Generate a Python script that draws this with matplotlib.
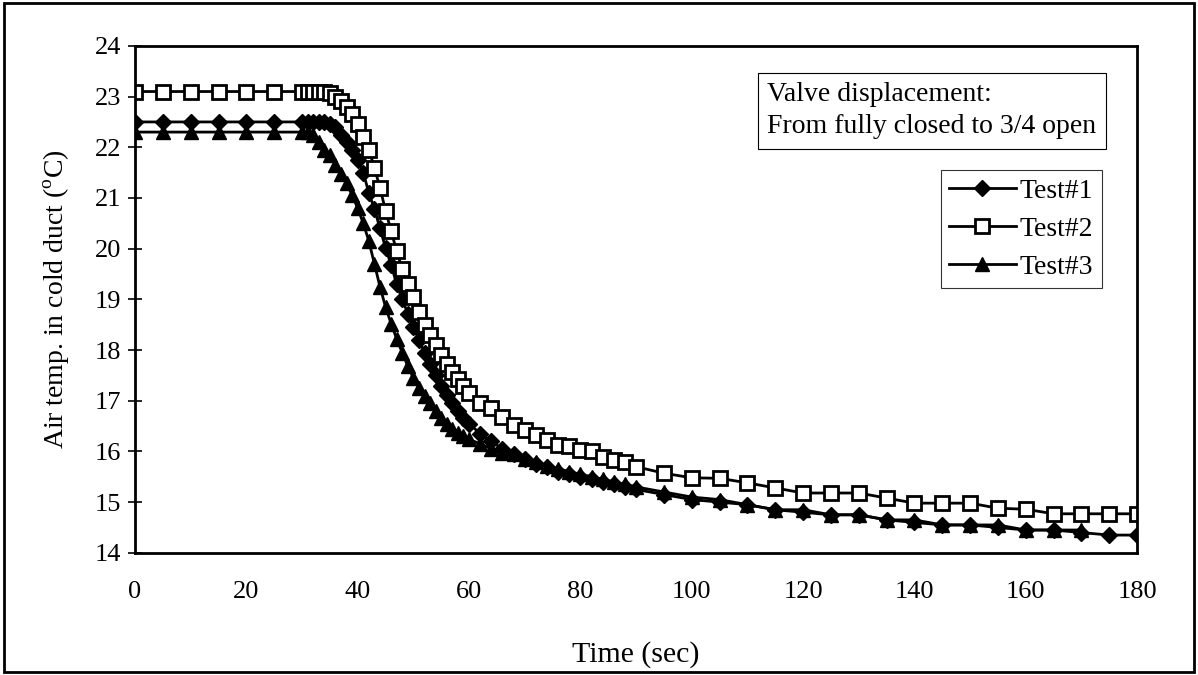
import matplotlib
matplotlib.use('Agg')
import matplotlib.pyplot as plt
from matplotlib.patches import Rectangle

plt.rcParams['font.family'] = ['Liberation Serif', 'DejaVu Serif']
plt.rcParams['mathtext.fontset'] = 'custom'
plt.rcParams['mathtext.rm'] = 'Liberation Serif'

# sampling: every 5 s to 30, every 1 s to 60, every 2 s to 90, then every 5 s
t_all = ([0, 5, 10, 15, 20, 25] + list(range(30, 61)) + list(range(62, 91, 2))
         + list(range(95, 181, 5)))

test1 = [22.5, 22.5, 22.5, 22.5, 22.5, 22.5,
         22.5, 22.5, 22.5, 22.5, 22.5, 22.45, 22.4, 22.25, 22.1, 21.95,
         21.75, 21.5, 21.1, 20.78, 20.4, 20.02, 19.68, 19.3, 19.0, 18.72,
         18.45, 18.2, 17.95, 17.72, 17.5, 17.3, 17.12, 16.96, 16.8, 16.66, 16.55,
         16.35, 16.2, 16.05, 15.95, 15.85, 15.75, 15.7, 15.6, 15.55, 15.5,
         15.45, 15.4, 15.35, 15.3, 15.25,
         15.15, 15.05, 15.0, 14.95, 14.85, 14.8, 14.75, 14.75, 14.65, 14.6,
         14.55, 14.55, 14.5, 14.45, 14.45, 14.4, 14.35, 14.35]

test2 = [23.1, 23.1, 23.1, 23.1, 23.1, 23.1,
         23.1, 23.1, 23.1, 23.1, 23.1, 23.07, 23.0, 22.92, 22.8, 22.65,
         22.45, 22.2, 21.95, 21.6, 21.2, 20.75, 20.35, 19.95, 19.6, 19.3,
         19.05, 18.75, 18.5, 18.3, 18.1, 17.9, 17.72, 17.57, 17.43, 17.3, 17.15,
         16.95, 16.85, 16.68, 16.52, 16.43, 16.33, 16.23, 16.13, 16.1, 16.03,
         16.0, 15.9, 15.83, 15.8, 15.7,
         15.57, 15.48, 15.47, 15.38, 15.28, 15.18, 15.18, 15.18, 15.08, 14.98,
         14.98, 14.98, 14.88, 14.86, 14.77, 14.77, 14.77, 14.77]

test3 = [22.3, 22.3, 22.3, 22.3, 22.3, 22.3,
         22.3, 22.3, 22.25, 22.1, 21.95, 21.85, 21.65, 21.48, 21.3, 21.05,
         20.8, 20.5, 20.15, 19.7, 19.25, 18.85, 18.52, 18.22, 17.95, 17.68,
         17.45, 17.25, 17.1, 16.95, 16.8, 16.66, 16.55, 16.45, 16.36, 16.3, 16.24,
         16.15, 16.05, 15.97, 15.95, 15.85, 15.8, 15.72, 15.66, 15.6, 15.55,
         15.5, 15.45, 15.4, 15.35, 15.3,
         15.2, 15.1, 15.05, 14.95, 14.85, 14.85, 14.75, 14.75, 14.65, 14.65,
         14.55, 14.55, 14.55, 14.45, 14.45, 14.45]

t3 = t_all[:len(test3)]

x_ticks = list(range(0, 181, 20))
y_ticks = list(range(14, 25))

fig = plt.figure(figsize=(11.98, 6.75), dpi=100)
ax = fig.add_axes([0.1127, 0.181, 0.8365, 0.751])

ax.plot(t_all, test1, color='black', lw=2, marker='D', ms=8,
        mfc='black', mec='black', label='Test#1')
ax.plot(t_all, test2, color='black', lw=2, marker='s', ms=10,
        mfc='white', mec='black', mew=2, label='Test#2')
ax.plot(t3, test3, color='black', lw=2, marker='^', ms=10,
        mfc='black', mec='black', label='Test#3')

ax.set_xlim(0, 180)
ax.set_ylim(14, 24)
ax.set_xticks(x_ticks)
ax.set_yticks(y_ticks)
ax.tick_params(axis='x', length=0, pad=20, labelsize=19)
ax.tick_params(axis='y', direction='inout', length=10, width=1.2, pad=5, labelsize=19)
for s in ax.spines.values():
    s.set_linewidth(2)

ax.set_xlabel('Time (sec)', fontsize=21.5, labelpad=28)
ax.set_ylabel('Air temp. in cold duct ($^\\mathrm{o}$C)', fontsize=20, labelpad=16)

leg = ax.legend(loc='upper right', bbox_to_anchor=(0.9645, 0.755), fontsize=20,
                frameon=True, fancybox=False, handlelength=2.4, handletextpad=0.15,
                labelspacing=0.45, borderpad=0.3, borderaxespad=0)
leg.get_frame().set_edgecolor('black')
leg.get_frame().set_linewidth(0.8)

ax.text(0.631, 0.872, 'Valve displacement:\nFrom fully closed to 3/4 open',
        transform=ax.transAxes, fontsize=20, va='center', ha='left', linespacing=1.35,
        bbox=dict(boxstyle='square,pad=0.35', fc='white', ec='black', lw=0.8))

fig.patches.append(Rectangle((0.003, 0.004), 0.994, 0.992, transform=fig.transFigure,
                             fill=False, ec='black', lw=2))

fig.savefig('out.png', dpi=100)
